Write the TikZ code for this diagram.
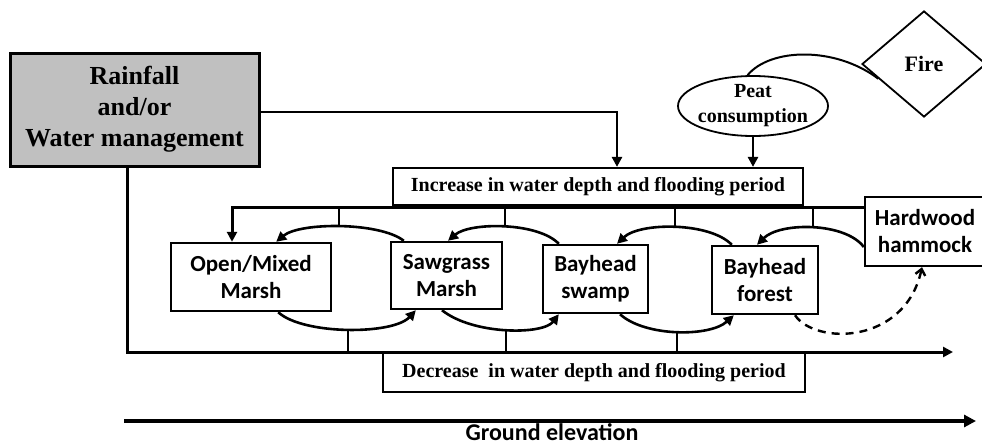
\documentclass[tikz,border=0pt]{standalone}
\usepackage{fontspec}
\setmainfont{Liberation Serif}
\newfontfamily\carl{Carlito}
\usetikzlibrary{arrows.meta,shapes.geometric}
\definecolor{rainfill}{HTML}{C0C0C0}
\begin{document}
\begin{tikzpicture}[x=1pt,y=-1pt,
  rainbox/.style={draw, fill=rainfill, line width=3pt, inner sep=0pt, align=center,
    font=\bfseries\fontsize{26}{31}\selectfont},
  serifbox/.style={draw, line width=2.2pt, inner sep=0pt, align=center,
    font=\bfseries\fontsize{20}{24}\selectfont},
  vegbox/.style={draw, line width=2.4pt, inner sep=0pt, align=center,
    font=\carl\bfseries\fontsize{23}{27}\selectfont},
  conn/.style={line width=2.6pt},
  arr/.style={-{Triangle[length=10pt,width=10pt]}},
  dasharr/.style={line width=2.4pt, dash pattern=on 8pt off 6pt, -{Straight Barb[length=6pt,width=10pt]}}
]
\useasboundingbox (0,0) rectangle (982,447);

% nodes
\node[rainbox, minimum width=249pt, minimum height=113pt] (rain) at (134.5,109.5) {Rainfall\\and/or\\Water management};
\node[serifbox, minimum width=410pt, minimum height=37pt] (inc) at (598,186.5) {Increase in water depth and flooding period};
\node[serifbox, minimum width=422pt, minimum height=39pt] (dec) at (594,372.5) {Decrease\ \ in water depth and flooding period};
\node[vegbox, minimum width=160pt, minimum height=68pt] (om) at (251,277) {Open/Mixed\\Marsh};
\node[vegbox, minimum width=111pt, minimum height=67pt] (sg) at (446.5,275.5) {Sawgrass\\Marsh};
\node[vegbox, minimum width=105pt, minimum height=68pt] (bs) at (595.5,279) {Bayhead\\swamp};
\node[vegbox, minimum width=106pt, minimum height=68pt] (bf) at (765,280) {Bayhead\\forest};
\node[vegbox, minimum width=120pt, minimum height=69pt] (hh) at (925,231.5) {Hardwood\\hammock};
\node[draw, ellipse, line width=1.8pt, minimum width=150pt, minimum height=60pt,
  inner xsep=-3pt, inner ysep=-3pt, align=center,
  font=\bfseries\fontsize{20}{25}\selectfont] (peat) at (753,106) {Peat\\consumption};
\node[draw, diamond, line width=1.8pt, minimum width=124pt, minimum height=106pt,
  inner sep=0pt, font=\bfseries\fontsize{22}{26}\selectfont] (fire) at (924,64) {Fire};

% rainfall to increase box
\draw[conn, arr] (rain.east |- 0,112) -| ([xshift=19pt]inc.north);
% peat to increase box
\draw[conn, arr] (peat.south) -- (peat.south |- inc.north);
% fire to peat
\draw[line width=2pt] (peat.100) .. controls (770,48) and (835,46) .. (fire.198);

% upper bar
\coordinate (tl) at (232,207);
\draw[line width=3pt, arr] (hh.west |- tl) -- (tl) -- (tl |- om.north);

% upper arcs (toward wetter)
\draw[conn, arr] ([xshift=14pt]sg.north west) .. controls (380,222) and (300,222) .. ([xshift=-56pt]om.north east);
\draw[conn, arr] ([xshift=17pt]bs.north west) .. controls (538,222) and (470,222) .. ([xshift=1.5pt]sg.north);
\draw[conn, arr] ([xshift=21pt]bf.north west) .. controls (710,222) and (640,222) .. ([xshift=21.5pt]bs.north);
\draw[conn, arr] ([yshift=-15.5pt]hh.west) .. controls (845,222) and (780,222) .. ([xshift=-8pt]bf.north);

% upper ticks
\foreach \tx in {339,505,675,813}{
  \draw[conn] (tl -| \tx,0) -- ++(0,20);
}

% bottom line
\coordinate (bend) at (953,352);
\draw[line width=3pt, arr] ([xshift=-7.5pt]rain.south) |- (bend);

% lower arcs (toward drier)
\draw[conn, arr] ([xshift=-54pt]om.south east) .. controls (303,335) and (393,335) .. ([xshift=26pt]sg.south west);
\draw[conn, arr] ([xshift=-4.5pt]sg.south) .. controls (473,335) and (543,335) .. ([xshift=17pt]bs.south west);
\draw[conn, arr] ([xshift=24.5pt]bs.south) .. controls (645,337) and (710,337) .. ([xshift=23pt]bf.south west);
\draw[dasharr] ([xshift=30pt]bf.south) .. controls (815,345) and (905,345) .. ([xshift=-3pt]hh.south);

% lower ticks
\foreach \tx/\ty in {348/329,506/329,677/331}{
  \draw[conn] (\tx,\ty) -- (bend -| \tx,0);
}

% ground elevation
\coordinate (g0) at (124,421);
\coordinate (g1) at (976,421);
\draw[line width=4pt, -{Triangle[length=12pt,width=12pt]}] (g0) -- (g1);
\node[font=\carl\bfseries\fontsize{24}{28}\selectfont, inner sep=0pt] (ge) at (552,432) {Ground elevation};
\end{tikzpicture}
\end{document}
